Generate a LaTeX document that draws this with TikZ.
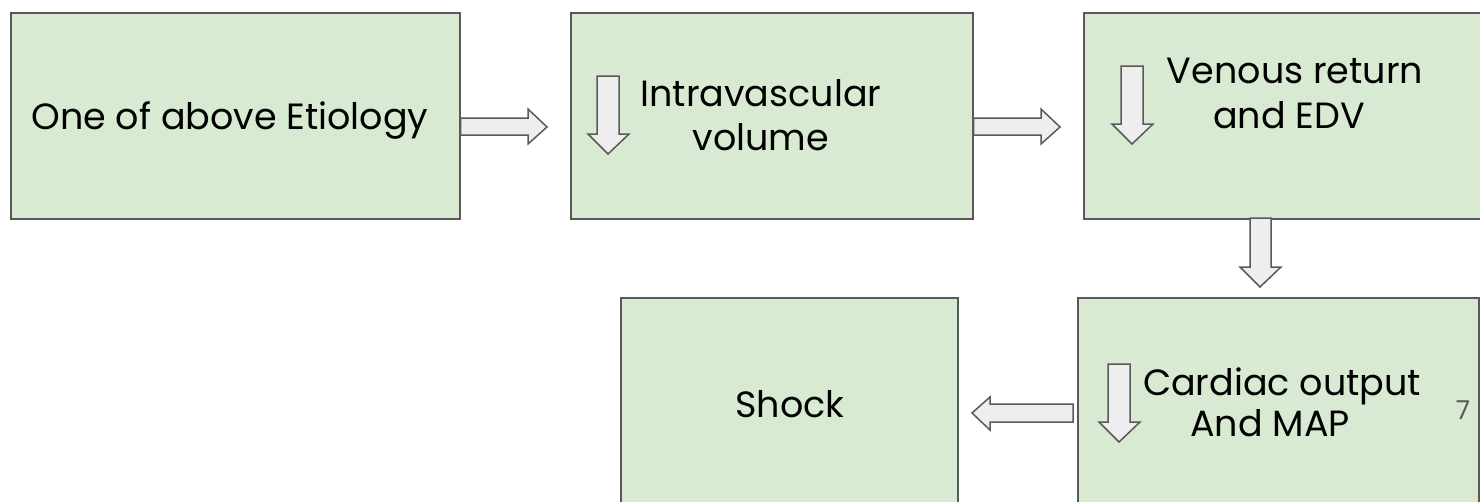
\documentclass[tikz,border=0pt]{standalone}
\usepackage{fontspec}
\setmainfont{Poppins}
\definecolor{boxfill}{HTML}{D9EAD3}
\definecolor{edge}{HTML}{595959}
\definecolor{arrowfill}{HTML}{EEEEEE}
\begin{document}
\begin{tikzpicture}[x=1pt,y=-1pt,
  box/.style={draw=edge,line width=1.7pt,fill=boxfill,anchor=north west,inner sep=0pt},
  lbl/.style={font=\fontsize{36.5}{44}\selectfont,text=black,anchor=base,inner sep=0pt},
  blk/.style={draw=edge,line width=1.5pt,fill=arrowfill,line join=miter}]
\useasboundingbox (0,0) rectangle (1480,501);
\begin{scope}
\clip (0,0) rectangle (1480,501);
\node[box,minimum width=449pt,minimum height=206pt] (b1) at (10,12) {};
\node[box,minimum width=402pt,minimum height=206pt] (b2) at (570,12) {};
\node[box,minimum width=410pt,minimum height=206pt] (b3) at (1083,12) {};
\node[box,minimum width=337pt,minimum height=215pt] (b4) at (620,297) {};
\node[box,minimum width=401pt,minimum height=215pt] (b5) at (1077,297) {};
\end{scope}
% text
\node[lbl] (t1) at (230,129) {One of above Etiology};
\node[lbl] (t2a) at (761,106) {Intravascular};
\node[lbl] (t2b) at (761,150) {volume};
\node[lbl] (t3a) at (1295,83) {Venous return};
\node[lbl] (t3b) at (1289,128) {and EDV};
\node[lbl] (t4) at (790,417) {Shock};
\node[lbl] (t5a) at (1282,395) {Cardiac output};
\node[lbl] (t5b) at (1270,436) {And MAP};
\node[font=\fontsize{26}{28}\selectfont,text=edge,anchor=base,inner sep=0pt] (pg) at (1463,419) {7};
% horizontal arrows between boxes
\draw[blk] (b1.east |- 0,118) -- (528,118) -- (528,109) -- (547,127) -- (528,144) -- (528,135) -- (b1.east |- 0,135) -- cycle;
\draw[blk] (b2.east |- 0,118) -- (1041,118) -- (1041,109) -- (1060,127) -- (1041,144) -- (1041,135) -- (b2.east |- 0,135) -- cycle;
% down arrow b3 -> b5
\draw[blk] (1250,218) -- (1250,267) -- (1240,267) -- (1260,287) -- (1281,267) -- (1271,267) -- (1271,218) -- cycle;
% left arrow b5 -> b4
\draw[blk] (1073,404) -- (990,404) -- (990,397) -- (972,413) -- (990,430) -- (990,422) -- (1073,422) -- cycle;
% small down arrows inside boxes
\draw[blk] (597,76) -- (597,134) -- (588,134) -- (608,154) -- (629,134) -- (619,134) -- (619,76) -- cycle;
\draw[blk] (1121,66) -- (1121,124) -- (1112,124) -- (1132,144) -- (1153,124) -- (1143,124) -- (1143,66) -- cycle;
\draw[blk] (1108,364) -- (1108,422) -- (1099,422) -- (1119,442) -- (1140,422) -- (1130,422) -- (1130,364) -- cycle;
\end{tikzpicture}
\end{document}
